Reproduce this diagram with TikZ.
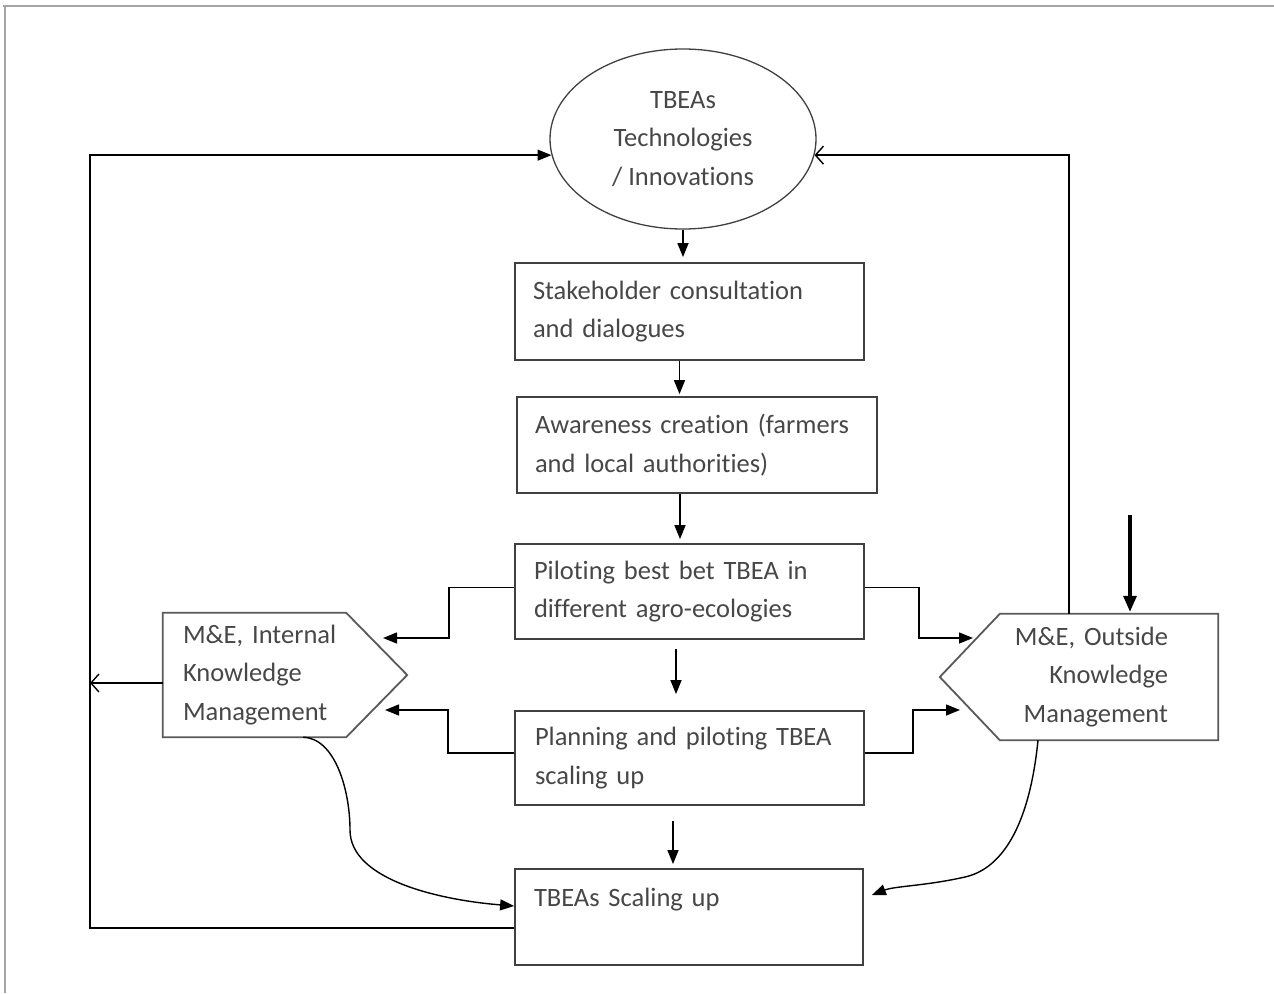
\documentclass[tikz,border=0pt]{standalone}
\usepackage{fontspec}
\setmainfont{Carlito}[RawFeature={-liga;-clig;-calt;-dlig}]
\usetikzlibrary{shapes.geometric, arrows.meta, calc}

\begin{document}
\begin{tikzpicture}[x=1pt, y=-1pt,
  font=\fontsize{26.5}{38.5}\selectfont,
  every node/.style={text=black!72},
  stepbox/.style={draw=black!75, line width=1.8, rectangle, align=left, inner ysep=0, minimum height=95},
  mebox/.style={draw=none, rectangle, inner ysep=0},
  meline/.style={draw=black!65, line width=1.8},
  arr/.style={draw=black, line width=1.4, -{Triangle[length=14, width=11]}},
  openarr/.style={draw=black, line width=1.4, -{Straight Barb[length=8, width=18]}}]
\useasboundingbox (0,0) rectangle (1274,993);
\draw[gray!70, line width=2] (3,6) -- (1274,6);
\draw[gray!70, line width=2] (5,6) -- (5,993);

\node[ellipse, draw=black!75, line width=1.3, minimum width=266, minimum height=180, inner sep=0, align=center] (tbea) at (683,139) {TBEAs\\Technologies\\/ Innovations};
\node[stepbox, text width=313, inner xsep=18, minimum height=97] (st) at (689.5,311.5) {Stakeholder consultation\\and dialogues};
\node[stepbox, text width=324, inner xsep=18, minimum height=96] (aw) at (697,445) {Awareness creation (farmers\\and local authorities)};
\node[stepbox, text width=311, inner xsep=19] (pb) at (689.5,591.5) {Piloting best bet TBEA in\\different agro-ecologies};
\node[stepbox, text width=309, inner xsep=20, minimum height=94] (pl) at (689.5,758) {Planning and piloting TBEA\\scaling up};
\node[stepbox, text width=310, inner xsep=19, minimum height=96] (su) at (689,917) {TBEAs Scaling up\\~};

\node[mebox, align=left, text width=204, inner xsep=20, minimum height=124] (mei) at (285,675) {M\&E, Internal\\Knowledge\\Management};
\node[mebox, align=right, text width=178, inner xsep=50, minimum height=126] (meo) at (1079,677) {M\&E, Outside\\Knowledge\\Management};
\draw[meline] (mei.north west) -- ([xshift=-61]mei.north east) -- (mei.east) -- ([xshift=-61]mei.south east) -- (mei.south west) -- cycle;
\draw[meline] (meo.north east) -- ([xshift=60]meo.north west) -- (meo.west) -- ([xshift=60]meo.south west) -- (meo.south east) -- cycle;

\coordinate (lrail) at (90,0);
\coordinate (mi1) at (383,638);
\coordinate (mi2) at (385,710);
\coordinate (mo1) at (973,638);
\coordinate (mo2) at (960,710);
\coordinate (ext) at (1130,515);

\draw[arr, shorten >=5] (tbea.south) -- (tbea.south |- st.north);
\draw[arr, shorten >=2] ([xshift=-10]st.south) -- ([xshift=-10]st.south |- aw.north);
\draw[arr, shorten >=4] ([xshift=-17]aw.south) -- ([xshift=-17]aw.south |- pb.north);
\draw[arr, shorten <=9, shorten >=16] ([xshift=-13.5]pb.south) -- ([xshift=-13.5]pb.south |- pl.north);
\draw[arr, shorten <=15, shorten >=4] ([xshift=-16.5]pl.south) -- ([xshift=-16.5]pl.south |- su.north);

\draw[arr] ([yshift=4]pb.west) -- ++(-65,0) |- (mi1);
\draw[arr] ([yshift=5]pl.west) -- ++(-66,0) |- (mi2);
\draw[arr] ([yshift=4]pb.east) -- ++(54,0) |- (mo1);
\draw[arr] ([yshift=5]pl.east) -- ++(48,0) |- (mo2);

\draw[openarr] ([yshift=-8]mei.west) coordinate (mw) -- (lrail |- mw);
\draw[arr] ([yshift=-11]su.west) -| (lrail |- tbea.187) -- (tbea.187);
\draw[openarr] ([xshift=-10]meo.north) |- (tbea.-7);
\draw[line width=3.2, -{Triangle[length=16, width=13]}, shorten >=2] (ext) -- (ext |- meo.north);

\draw[arr] ([xshift=18]mei.south) .. controls (335,738) and (350,790) .. (350,830) .. controls (350,880) and (440,900) .. ([yshift=11]su.west);
\draw[arr] ([xshift=-41]meo.south) .. controls (1030,820) and (1005,868) .. (965,877) .. controls (925,886) and (895,886) .. ([xshift=8, yshift=22]su.east);
\end{tikzpicture}
\end{document}
